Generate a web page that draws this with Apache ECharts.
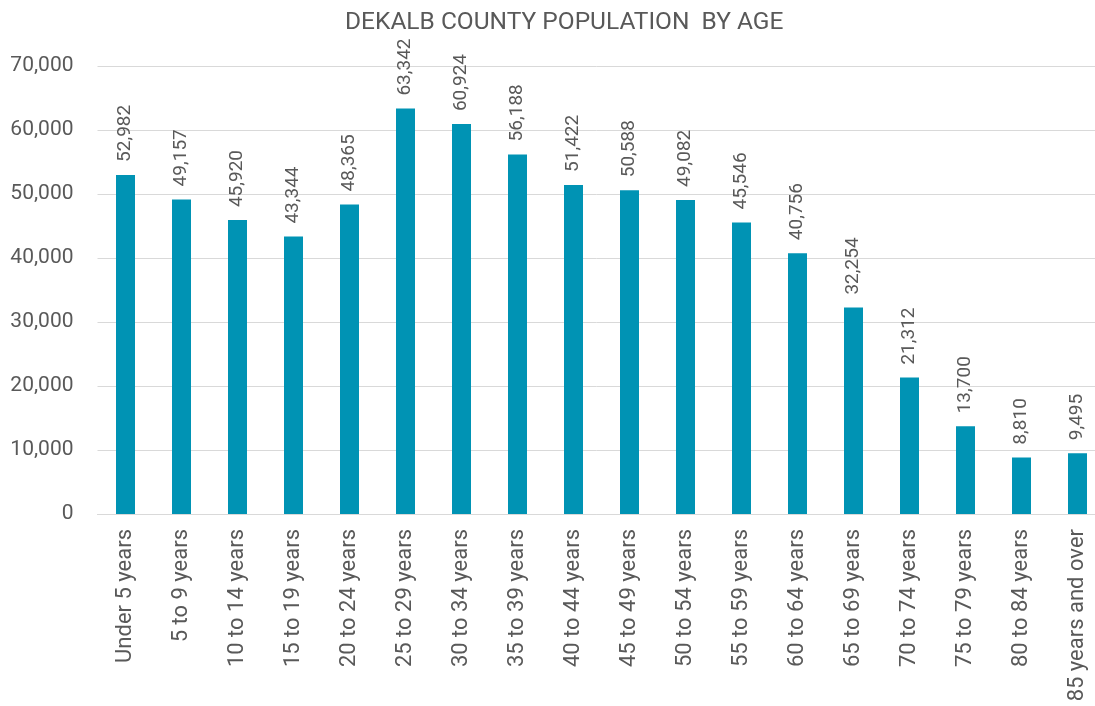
<!DOCTYPE html>
<html><head><meta charset="utf-8">
<script src="https://cdn.jsdelivr.net/npm/echarts@6/dist/echarts.min.js"></script>
<style>html,body{margin:0;padding:0;background:#fff}#c{width:1095px;height:706px}</style>
</head><body><div id="c"></div>
<script>
const categories = ["Under 5 years","5 to 9 years","10 to 14 years","15 to 19 years","20 to 24 years","25 to 29 years","30 to 34 years","35 to 39 years","40 to 44 years","45 to 49 years","50 to 54 years","55 to 59 years","60 to 64 years","65 to 69 years","70 to 74 years","75 to 79 years","80 to 84 years","85 years and over"];
const population = [52982,49157,45920,43344,48365,63342,60924,56188,51422,50588,49082,45546,40756,32254,21312,13700,8810,9495];
const yTicks = [0,10000,20000,30000,40000,50000,60000,70000];

const fmt = v => v.toLocaleString('en-US');
const chart = echarts.init(document.getElementById('c'));
chart.setOption({
  animation:false,
  textStyle:{fontFamily:'Roboto'},
  title:{text:'DEKALB COUNTY POPULATION  BY AGE',left:340,top:5,
    textStyle:{fontFamily:'Roboto',fontSize:24.5,fontWeight:'normal',color:'#595959'}},
  grid:{left:97.5,width:1008,top:66,bottom:192,containLabel:false,outerBoundsMode:'none'},
  xAxis:{type:'category',data:categories,
    axisLine:{lineStyle:{color:'#d9d9d9'}},axisTick:{show:false},
    axisLabel:{rotate:90,interval:0,color:'#595959',fontSize:22,margin:15}},
  yAxis:{type:'value',min:yTicks[0],max:yTicks[yTicks.length-1],interval:10000,
    splitLine:{lineStyle:{color:'#d9d9d9'}},
    axisLabel:{color:'#595959',fontSize:21,margin:24,formatter:fmt}},
  series:[{type:'bar',data:population,barWidth:19,
    itemStyle:{color:'#0093b4'},
    label:{show:true,position:'top',rotate:90,align:'left',verticalAlign:'middle',distance:13,
      color:'#595959',fontSize:19,formatter:p=>fmt(p.value)}}]
});
</script></body></html>
